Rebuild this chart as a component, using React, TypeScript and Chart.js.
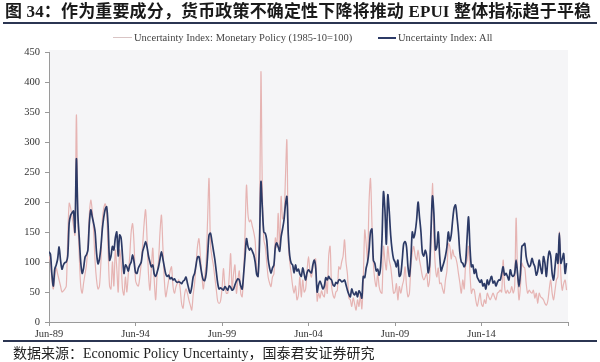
import React, { useEffect, useRef } from "react";
import { Chart, registerables } from "chart.js";

Chart.register(...registerables);

// Monthly data, Jun-1989 .. May-2019 (index 0 = Jun-89)
const monetaryPolicy: number[] = [
  110, 100, 70, 55, 75, 90, 80, 70, 60, 50,
  52, 55, 60, 140, 198, 190, 175, 160, 145, 345,
  175, 110, 60, 48, 65, 80, 95, 130, 180, 203,
  185, 150, 100, 70, 55, 60, 100, 170, 190, 197,
  180, 120, 60, 55, 100, 60, 120, 90, 50, 120,
  100, 55, 45, 75, 50, 80, 110, 150, 164, 130,
  70, 62, 60, 75, 100, 130, 165, 187, 140, 80,
  53, 90, 123, 70, 37, 80, 103, 150, 178, 125,
  70, 42, 55, 70, 85, 92, 60, 48, 58, 65,
  70, 55, 30, 23, 45, 55, 48, 37, 28, 20,
  45, 65, 95, 126, 139, 110, 80, 55, 75, 100,
  170, 239, 130, 109, 95, 75, 55, 35, 31, 35,
  55, 89, 60, 48, 48, 75, 114, 55, 80, 95,
  48, 70, 85, 48, 42, 80, 150, 228, 180, 167,
  170, 160, 150, 135, 90, 76, 150, 417, 215, 137,
  126, 100, 75, 65, 59, 75, 80, 140, 125, 181,
  120, 209, 172, 175, 240, 303, 130, 100, 80, 60,
  48, 60, 37, 45, 75, 42, 70, 50, 55, 85,
  109, 85, 75, 90, 103, 105, 35, 48, 40, 52,
  45, 42, 70, 48, 110, 126, 60, 45, 40, 50,
  53, 92, 88, 100, 110, 137, 100, 80, 40, 37,
  26, 40, 30, 20, 37, 26, 45, 22, 70, 153,
  130, 103, 200, 239, 165, 98, 70, 59, 81, 59,
  50, 48, 126, 103, 87, 126, 103, 92, 70, 48,
  50, 64, 37, 59, 48, 60, 70, 92, 60, 42,
  48, 92, 115, 126, 110, 103, 120, 103, 90, 76,
  70, 75, 81, 59, 70, 137, 231, 140, 92, 75,
  90, 64, 65, 55, 48, 70, 85, 131, 126, 105,
  120, 110, 108, 98, 81, 65, 48, 70, 55, 95,
  103, 126, 81, 48, 55, 53, 37, 26, 37, 48,
  30, 26, 37, 31, 48, 42, 37, 42, 48, 42,
  37, 48, 50, 53, 50, 103, 59, 48, 53, 48,
  50, 59, 48, 59, 173, 81, 37, 59, 98, 92,
  90, 64, 48, 53, 50, 48, 53, 40, 48, 31,
  48, 42, 40, 37, 31, 28, 35, 55, 70, 48,
  37, 53, 70, 76, 150, 81, 53, 64, 70, 53,
];

const allIndex: number[] = [
  117, 113, 80, 60, 88, 95, 105, 125, 103, 88,
  95, 99, 100, 110, 165, 178, 182, 185, 150, 272,
  180, 140, 100, 81, 90, 108, 112, 120, 165, 187,
  175, 164, 150, 115, 97, 105, 125, 155, 175, 188,
  192, 160, 103, 110, 126, 120, 140, 150, 110, 145,
  140, 110, 81, 95, 92, 85, 95, 100, 112, 100,
  83, 81, 90, 95, 100, 118, 126, 134, 125, 110,
  100, 92, 95, 80, 76, 83, 92, 105, 117, 105,
  92, 80, 76, 78, 72, 74, 70, 72, 68, 66,
  67, 66, 64, 68, 70, 75, 65, 55, 48, 58,
  75, 81, 95, 108, 109, 95, 80, 70, 69, 80,
  110, 145, 148, 135, 120, 105, 85, 65, 55, 57,
  55, 53, 59, 56, 53, 60, 58, 53, 55, 62,
  68, 72, 70, 60, 55, 80, 110, 139, 126, 120,
  123, 118, 112, 100, 80, 76, 130, 234, 190, 150,
  148, 137, 105, 90, 81, 90, 95, 125, 132, 125,
  118, 142, 155, 170, 195, 209, 145, 110, 98, 95,
  82, 95, 85, 88, 80, 76, 90, 80, 70, 82,
  87, 84, 82, 95, 103, 90, 50, 62, 68, 62,
  55, 60, 74, 70, 76, 72, 70, 62, 60, 66,
  64, 70, 70, 67, 68, 70, 62, 53, 46, 42,
  55, 48, 45, 50, 42, 52, 48, 40, 76, 74,
  90, 100, 120, 150, 155, 103, 98, 85, 88, 78,
  92, 140, 217, 187, 130, 212, 185, 145, 120, 105,
  100, 92, 103, 76, 80, 103, 130, 134, 125, 92,
  76, 105, 150, 140, 150, 170, 200, 175, 150, 115,
  110, 120, 110, 82, 95, 155, 210, 180, 120, 125,
  150, 110, 85, 92, 100, 110, 125, 150, 135, 145,
  170, 190, 195, 175, 150, 115, 100, 98, 92, 100,
  140, 175, 125, 92, 95, 81, 88, 75, 70, 66,
  70, 60, 64, 55, 70, 62, 70, 76, 65, 68,
  60, 66, 70, 70, 81, 92, 78, 81, 76, 70,
  87, 78, 76, 81, 103, 81, 59, 81, 126, 128,
  131, 109, 98, 92, 95, 106, 98, 92, 78, 85,
  103, 90, 81, 109, 98, 76, 103, 118, 110, 81,
  70, 92, 114, 98, 148, 98, 105, 114, 81, 98,
];

const xTickLabels: string[] = ["Jun-89", "Jun-94", "Jun-99", "Jun-04", "Jun-09", "Jun-14", ""];
const seriesNames: string[] = [
  "Uncertainty Index: Monetary Policy (1985-10=100)",
  "Uncertainty Index: All",
];
const titleText = "图 34：作为重要成分，货币政策不确定性下降将推动 EPUI 整体指标趋于平稳";
const sourceText = "数据来源：Economic Policy Uncertainty，国泰君安证券研究";

const PINK = "#e6b4b3";
const NAVY = "#2c3a66";

const plotBg = {
  id: "plotBg",
  beforeDraw(chart: any) {
    const { ctx, chartArea: a } = chart;
    ctx.save();
    ctx.fillStyle = "#f5f5f7";
    ctx.fillRect(a.left, a.top - 2, a.right - a.left, a.bottom - a.top + 2);
    ctx.restore();
  },
};

export default function App() {
  const ref = useRef<HTMLCanvasElement | null>(null);

  useEffect(() => {
    if (!ref.current) return;
    const font = { family: "'Liberation Serif', 'Times New Roman', serif", size: 10.5 };
    const chart = new Chart(ref.current, {
      type: "line",
      data: {
        datasets: [
          {
            label: seriesNames[0],
            data: monetaryPolicy.map((v, i) => ({ x: i, y: v })),
            borderColor: PINK,
            borderWidth: 1.2,
            pointRadius: 0,
            tension: 0.3,
            order: 2,
          },
          {
            label: seriesNames[1],
            data: allIndex.map((v, i) => ({ x: i, y: v })),
            borderColor: NAVY,
            borderWidth: 1.7,
            pointRadius: 0,
            tension: 0.3,
            order: 1,
          },
        ],
      },
      options: {
        animation: false,
        responsive: false,
        devicePixelRatio: 1,
        events: [],
        layout: { padding: { left: 0, right: 32, top: 52, bottom: 15 } },
        plugins: { legend: { display: false }, tooltip: { enabled: false } },
        scales: {
          x: {
            type: "linear",
            min: 0,
            max: 360,
            afterFit: (s: any) => {
              s.height = 25;
            },
            ticks: {
              stepSize: 60,
              autoSkip: false,
              maxRotation: 0,
              font,
              color: "#333",
              padding: 2,
              callback: (v: any) => xTickLabels[Math.round(Number(v) / 60)] ?? "",
            },
            grid: { drawOnChartArea: false, tickLength: 4, tickColor: "#9a9a9a" },
            border: { color: "#9a9a9a" },
          },
          y: {
            min: 0,
            max: 450,
            afterFit: (s: any) => {
              s.width = 49;
            },
            ticks: { stepSize: 50, font, color: "#333", padding: 5 },
            grid: { drawOnChartArea: false, tickLength: 4, tickColor: "#9a9a9a" },
            border: { color: "#9a9a9a" },
          },
        },
      },
      plugins: [plotBg],
    });
    return () => chart.destroy();
  }, []);

  const serif = "'Liberation Serif', 'Noto Sans CJK SC', serif";
  return (
    <div style={{ position: "absolute", left: 0, top: 0, width: 600, height: 362, background: "#fff", overflow: "hidden" }}>
      <canvas ref={ref} width={600} height={362} style={{ position: "absolute", left: 0, top: 0 }} />
      <div
        style={{
          position: "absolute",
          left: 5,
          top: 2,
          fontFamily: serif,
          fontWeight: "bold",
          fontSize: 17,
          lineHeight: "20px",
          letterSpacing: "0.15px",
          color: "#1a1a1a",
          whiteSpace: "nowrap",
        }}
      >
        {titleText}
      </div>
      <div style={{ position: "absolute", left: 3, top: 22, width: 594, height: 2, background: "#2b3552" }} />
      <div style={{ position: "absolute", left: 113, top: 37, width: 19, height: 1, background: "#d9c4c4" }} />
      <div
        style={{
          position: "absolute",
          left: 134,
          top: 31,
          fontFamily: "'Liberation Serif', serif",
          fontSize: 10.5,
          lineHeight: "14px",
          color: "#444",
          whiteSpace: "nowrap",
        }}
      >
        {seriesNames[0]}
      </div>
      <div style={{ position: "absolute", left: 378, top: 37, width: 18, height: 1.5, background: NAVY }} />
      <div
        style={{
          position: "absolute",
          left: 398,
          top: 31,
          fontFamily: "'Liberation Serif', serif",
          fontSize: 10.5,
          lineHeight: "14px",
          color: "#444",
          whiteSpace: "nowrap",
        }}
      >
        {seriesNames[1]}
      </div>
      <div style={{ position: "absolute", left: 3, top: 340, width: 594, height: 2, background: "#2b3552" }} />
      <div
        style={{
          position: "absolute",
          left: 13,
          top: 345,
          fontFamily: serif,
          fontSize: 14,
          lineHeight: "18px",
          color: "#222",
          whiteSpace: "nowrap",
        }}
      >
        {sourceText}
      </div>
    </div>
  );
}
